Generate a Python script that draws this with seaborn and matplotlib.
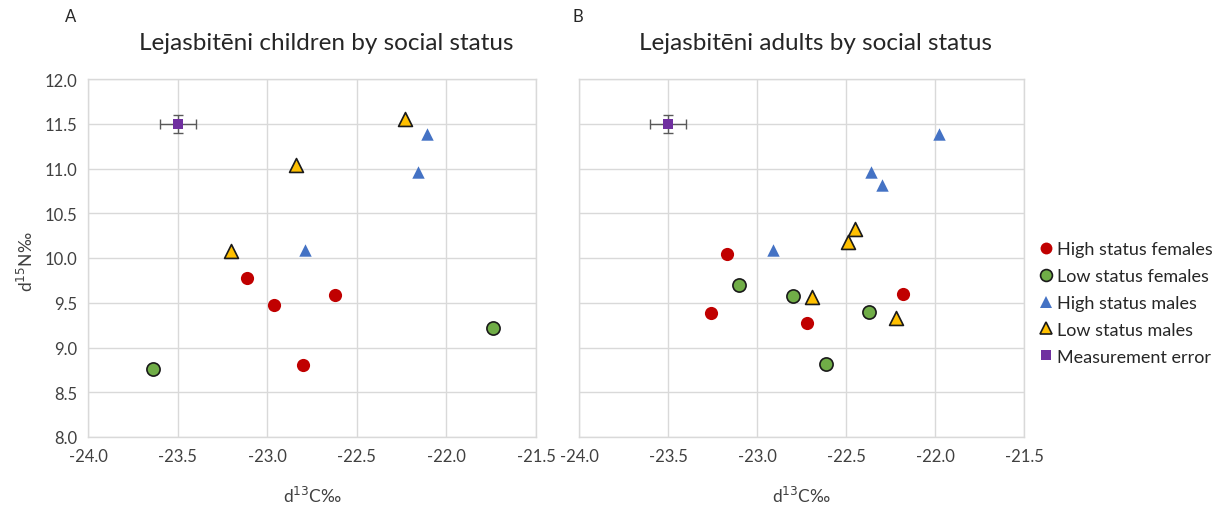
import matplotlib
matplotlib.use("Agg")
import matplotlib.pyplot as plt
import seaborn as sns
import pandas as pd
import numpy as np
from matplotlib.lines import Line2D

# ---------------- data ----------------
groups = ["High status females", "Low status females", "High status males",
          "Low status males", "Measurement error"]

# Children (panel A)
child_hsf_x = [-23.11, -22.96, -22.62, -22.80]
child_hsf_y = [9.78, 9.47, 9.59, 8.81]
child_lsf_x = [-23.64, -21.74]
child_lsf_y = [8.76, 9.22]
child_hsm_x = [-22.11, -22.16, -22.79]
child_hsm_y = [11.39, 10.96, 10.09]
child_lsm_x = [-22.23, -22.84, -23.20]
child_lsm_y = [11.55, 11.04, 10.08]

# Adults (panel B)
adult_hsf_x = [-23.17, -23.26, -22.72, -22.18]
adult_hsf_y = [10.05, 9.38, 9.27, 9.60]
adult_lsf_x = [-23.10, -22.80, -22.37, -22.61]
adult_lsf_y = [9.70, 9.57, 9.40, 8.82]
adult_hsm_x = [-21.98, -22.36, -22.30, -22.91]
adult_hsm_y = [11.39, 10.96, 10.82, 10.09]
adult_lsm_x = [-22.45, -22.49, -22.69, -22.22]
adult_lsm_y = [10.32, 10.18, 9.56, 9.33]

# Measurement error point
err_x = [-23.5]
err_y = [11.5]
err_dx = [0.1]
err_dy = [0.1]

x_ticks = [-24.0, -23.5, -23.0, -22.5, -22.0, -21.5]
y_ticks = [8.0, 8.5, 9.0, 9.5, 10.0, 10.5, 11.0, 11.5, 12.0]

titles = ["Lejasbitēni children by social status", "Lejasbitēni adults by social status"]
panel_letters = ["A", "B"]

# ---------------- styles ----------------
styles = {
    "High status females": dict(marker="o", color="#C00000", edgecolor="#C00000", s=90, linewidth=0),
    "Low status females": dict(marker="o", color="#70AD47", edgecolor="#1a1a1a", s=90, linewidth=1.2),
    "High status males": dict(marker="^", color="#4472C4", edgecolor="#4472C4", s=80, linewidth=0),
    "Low status males": dict(marker="^", color="#FFC000", edgecolor="#1a1a1a", s=100, linewidth=1.2),
    "Measurement error": dict(marker="s", color="#7030A0", edgecolor="#7030A0", s=55, linewidth=0),
}

def make_df(hsf, lsf, hsm, lsm):
    rows = []
    for g, (xs, ys) in zip(groups[:4], [hsf, lsf, hsm, lsm]):
        for x, y in zip(xs, ys):
            rows.append(dict(d13C=x, d15N=y, group=g))
    return pd.DataFrame(rows)

df_child = make_df((child_hsf_x, child_hsf_y), (child_lsf_x, child_lsf_y),
                   (child_hsm_x, child_hsm_y), (child_lsm_x, child_lsm_y))
df_adult = make_df((adult_hsf_x, adult_hsf_y), (adult_lsf_x, adult_lsf_y),
                   (adult_hsm_x, adult_hsm_y), (adult_lsm_x, adult_lsm_y))

sns.set_style("white")
plt.rcParams["font.family"] = ["Lato", "DejaVu Sans"]
plt.rcParams["axes.unicode_minus"] = False

fig = plt.figure(figsize=(12.25, 5.06), dpi=100)
W, H = 1225, 506
ax1 = fig.add_axes([88 / W, 1 - 438 / H, (536 - 88) / W, (438 - 80) / H])
ax2 = fig.add_axes([579 / W, 1 - 438 / H, (1024 - 579) / W, (438 - 80) / H])

for i, (ax, df) in enumerate([(ax1, df_child), (ax2, df_adult)]):
    ax.set_xlim(-24.0, -21.5)
    ax.set_ylim(8.0, 12.0)
    ax.set_xticks(x_ticks)
    ax.set_yticks(y_ticks)
    ax.set_xticklabels([f"{t:.1f}" for t in x_ticks])
    ax.set_axisbelow(True)
    ax.grid(True, color="#d9d9d9", linewidth=1.0)
    for sp in ax.spines.values():
        sp.set_color("#d9d9d9")
        sp.set_linewidth(1.0)
    ax.tick_params(axis="both", length=0, labelsize=12, colors="#404040", pad=8)
    if i == 0:
        ax.set_yticklabels([f"{t:.1f}" for t in y_ticks])
    else:
        ax.set_yticklabels([])

    # error bars of measurement error
    ax.errorbar(err_x, err_y, xerr=err_dx, yerr=err_dy, fmt="none",
                ecolor="#595959", elinewidth=1.0, capsize=3.5, capthick=1.0, zorder=2)
    for g in groups[:4]:
        sub = df[df["group"] == g]
        st = styles[g]
        sns.scatterplot(data=sub, x="d13C", y="d15N", ax=ax, marker=st["marker"],
                        color=st["color"], edgecolor=st["edgecolor"], s=st["s"],
                        linewidth=st["linewidth"], zorder=3, legend=False)
    st = styles["Measurement error"]
    sns.scatterplot(x=err_x, y=err_y, ax=ax, marker=st["marker"], color=st["color"],
                    edgecolor=st["edgecolor"], s=st["s"], linewidth=0, zorder=4, legend=False)
    ax.set_xlabel("")
    ax.set_ylabel("")
    x0, x1 = (88, 536) if i == 0 else (579, 1024)
    fig.text((x0 + x1) / 2 / W, 1 - 496 / H, "d$^{13}$C‰", fontsize=12.5,
             color="#404040", ha="center", va="center")
    if i == 0:
        fig.text(26 / W, 1 - 262 / H, "d$^{15}$N‰", fontsize=12.5, color="#404040",
                 ha="center", va="center", rotation=90)
    fig.text(((x0 + x1) / 2 + 14) / W, 1 - 50 / H, titles[i], fontsize=17.5,
             color="#262626", ha="center", va="baseline")
    fig.text((65 if i == 0 else 573) / W, 1 - 17 / H, panel_letters[i], fontsize=12,
             color="#262626", va="center", ha="left")

# legend
handles = []
for g in groups:
    st = styles[g]
    handles.append(Line2D([0], [0], linestyle="none", marker=st["marker"],
                          markerfacecolor=st["color"],
                          markeredgecolor=st["edgecolor"],
                          markeredgewidth=st["linewidth"] if st["linewidth"] > 0 else 0,
                          markersize=np.sqrt(st["s"]) * 0.9, label=g))
fig.legend(handles=handles, loc="upper left", bbox_to_anchor=(1030 / W, 1 - 235 / H),
           frameon=False, fontsize=13, handletextpad=0.1, handlelength=1.0,
           labelspacing=0.6, borderaxespad=0, labelcolor="#262626")

fig.savefig("out.png", dpi=100)
